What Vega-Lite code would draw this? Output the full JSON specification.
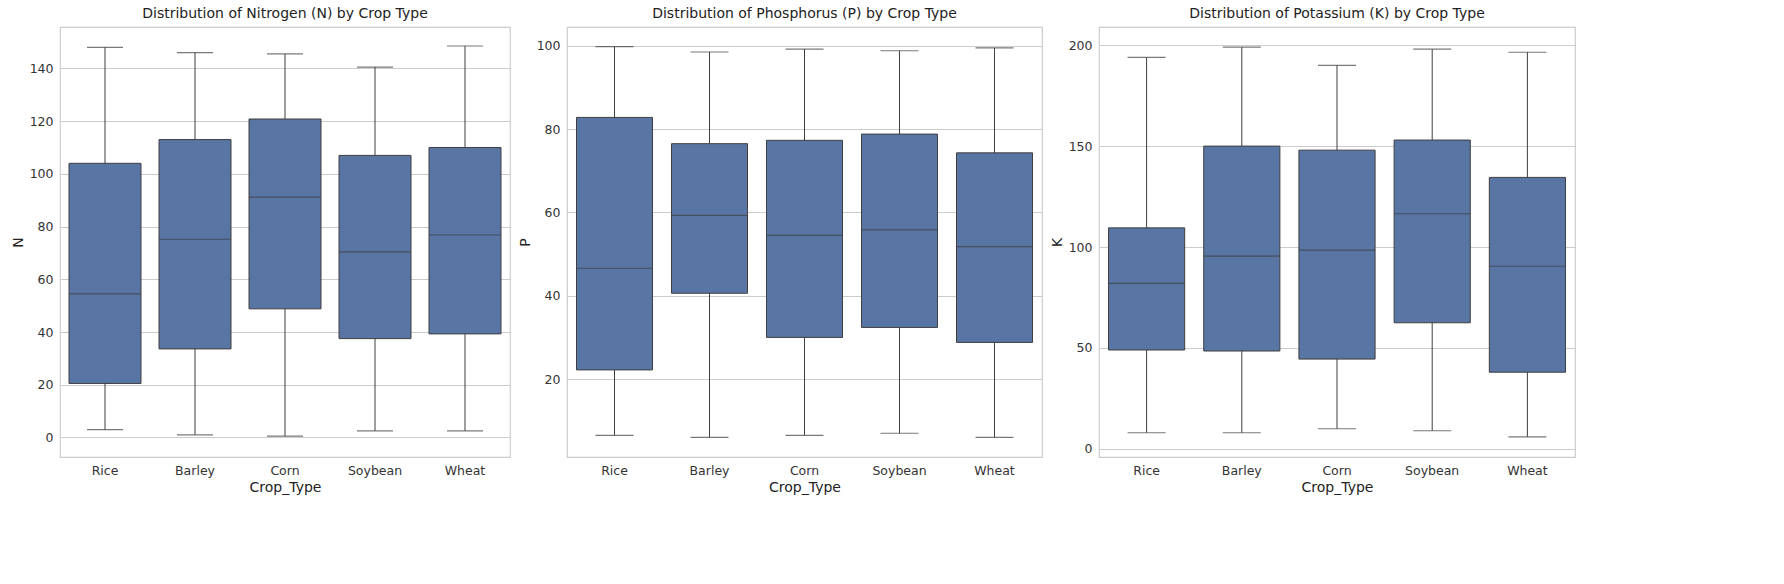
{
  "$schema": "https://vega.github.io/schema/vega-lite/v6.json",
  "datasets": {
    "stats": [
      {"nut": "N", "crop": "Rice", "min": 3, "q1": 20.5, "med": 54.5, "q3": 104, "max": 148},
      {"nut": "N", "crop": "Barley", "min": 1, "q1": 33.6, "med": 75.2, "q3": 113, "max": 146},
      {"nut": "N", "crop": "Corn", "min": 0.5, "q1": 48.8, "med": 91.2, "q3": 120.8, "max": 145.5},
      {"nut": "N", "crop": "Soybean", "min": 2.5, "q1": 37.5, "med": 70.4, "q3": 107, "max": 140.5},
      {"nut": "N", "crop": "Wheat", "min": 2.5, "q1": 39.3, "med": 76.8, "q3": 110, "max": 148.5},
      {"nut": "P", "crop": "Rice", "min": 6.5, "q1": 22.2, "med": 46.6, "q3": 82.8, "max": 99.8},
      {"nut": "P", "crop": "Barley", "min": 6, "q1": 40.6, "med": 59.3, "q3": 76.5, "max": 98.5},
      {"nut": "P", "crop": "Corn", "min": 6.5, "q1": 30, "med": 54.5, "q3": 77.3, "max": 99.2},
      {"nut": "P", "crop": "Soybean", "min": 7, "q1": 32.4, "med": 55.8, "q3": 78.8, "max": 98.8},
      {"nut": "P", "crop": "Wheat", "min": 6, "q1": 28.8, "med": 51.8, "q3": 74.3, "max": 99.5},
      {"nut": "K", "crop": "Rice", "min": 8, "q1": 49, "med": 82, "q3": 109.5, "max": 194},
      {"nut": "K", "crop": "Barley", "min": 8, "q1": 48.5, "med": 95.5, "q3": 150, "max": 199},
      {"nut": "K", "crop": "Corn", "min": 10, "q1": 44.5, "med": 98.5, "q3": 148, "max": 190},
      {"nut": "K", "crop": "Soybean", "min": 9, "q1": 62.5, "med": 116.5, "q3": 153, "max": 198},
      {"nut": "K", "crop": "Wheat", "min": 6, "q1": 38, "med": 90.5, "q3": 134.5, "max": 196.5}
    ]
  },
  "spacing": 6,
  "padding": {"left": 10, "top": 6, "right": 8, "bottom": 6},
  "config": {
    "font": "DejaVu Sans",
    "view": {"stroke": "#cccccc", "strokeWidth": 1.2},
    "title": {"fontSize": 14, "fontWeight": "normal", "color": "#222", "offset": 6},
    "axis": {"labelFontSize": 12.5, "titleFontSize": 14, "titleFontWeight": "normal", "labelColor": "#333", "titleColor": "#222", "domain": false, "ticks": false, "labelPadding": 7},
    "axisY": {"grid": true, "gridColor": "#cccccc", "tickCount": 8},
    "axisX": {"grid": false, "labelAngle": 0},
    "scale": {"bandPaddingInner": 0.2, "bandPaddingOuter": 0.1}
  },
  "hconcat": [
    {
      "title": "Distribution of Nitrogen (N) by Crop Type",
      "width": 450, "height": 430,
      "data": {"name": "stats"},
      "transform": [{"filter": "datum.nut == 'N'"}],
      "encoding": {
        "x": {"field": "crop", "type": "nominal", "sort": ["Rice", "Barley", "Corn", "Soybean", "Wheat"], "title": "Crop_Type"}
      },
      "layer": [
        {"mark": {"type": "rule", "color": "#3f3f3f"}, "encoding": {"y": {"field": "min", "type": "quantitative", "title": "N", "scale": {"domain": [-7.4, 155.7], "nice": false, "zero": false}}, "y2": {"field": "max"}}},
        {"mark": {"type": "bar", "color": "#5875a4", "stroke": "#3f3f3f", "strokeWidth": 1}, "encoding": {"y": {"field": "q1", "type": "quantitative"}, "y2": {"field": "q3"}}},
        {"mark": {"type": "tick", "color": "#3f3f3f", "thickness": 1.2, "size": 72}, "encoding": {"y": {"field": "med", "type": "quantitative"}}},
        {"mark": {"type": "tick", "color": "#3f3f3f", "thickness": 1.2, "size": 36}, "encoding": {"y": {"field": "min", "type": "quantitative"}}},
        {"mark": {"type": "tick", "color": "#3f3f3f", "thickness": 1.2, "size": 36}, "encoding": {"y": {"field": "max", "type": "quantitative"}}}
      ]
    },
    {
      "title": "Distribution of Phosphorus (P) by Crop Type",
      "width": 475, "height": 430,
      "data": {"name": "stats"},
      "transform": [{"filter": "datum.nut == 'P'"}],
      "encoding": {
        "x": {"field": "crop", "type": "nominal", "sort": ["Rice", "Barley", "Corn", "Soybean", "Wheat"], "title": "Crop_Type"}
      },
      "layer": [
        {"mark": {"type": "rule", "color": "#3f3f3f"}, "encoding": {"y": {"field": "min", "type": "quantitative", "title": "P", "axis": {"values": [20, 40, 60, 80, 100]}, "scale": {"domain": [1.3, 104.5], "nice": false, "zero": false}}, "y2": {"field": "max"}}},
        {"mark": {"type": "bar", "color": "#5875a4", "stroke": "#3f3f3f", "strokeWidth": 1}, "encoding": {"y": {"field": "q1", "type": "quantitative"}, "y2": {"field": "q3"}}},
        {"mark": {"type": "tick", "color": "#3f3f3f", "thickness": 1.2, "size": 76}, "encoding": {"y": {"field": "med", "type": "quantitative"}}},
        {"mark": {"type": "tick", "color": "#3f3f3f", "thickness": 1.2, "size": 38}, "encoding": {"y": {"field": "min", "type": "quantitative"}}},
        {"mark": {"type": "tick", "color": "#3f3f3f", "thickness": 1.2, "size": 38}, "encoding": {"y": {"field": "max", "type": "quantitative"}}}
      ]
    },
    {
      "title": "Distribution of Potassium (K) by Crop Type",
      "width": 476, "height": 430,
      "data": {"name": "stats"},
      "transform": [{"filter": "datum.nut == 'K'"}],
      "encoding": {
        "x": {"field": "crop", "type": "nominal", "sort": ["Rice", "Barley", "Corn", "Soybean", "Wheat"], "title": "Crop_Type"}
      },
      "layer": [
        {"mark": {"type": "rule", "color": "#3f3f3f"}, "encoding": {"y": {"field": "min", "type": "quantitative", "title": "K", "axis": {"values": [0, 25, 50, 75, 100, 125, 150, 175, 200]}, "scale": {"domain": [-4, 209], "nice": false, "zero": false}}, "y2": {"field": "max"}}},
        {"mark": {"type": "bar", "color": "#5875a4", "stroke": "#3f3f3f", "strokeWidth": 1}, "encoding": {"y": {"field": "q1", "type": "quantitative"}, "y2": {"field": "q3"}}},
        {"mark": {"type": "tick", "color": "#3f3f3f", "thickness": 1.2, "size": 76}, "encoding": {"y": {"field": "med", "type": "quantitative"}}},
        {"mark": {"type": "tick", "color": "#3f3f3f", "thickness": 1.2, "size": 38}, "encoding": {"y": {"field": "min", "type": "quantitative"}}},
        {"mark": {"type": "tick", "color": "#3f3f3f", "thickness": 1.2, "size": 38}, "encoding": {"y": {"field": "max", "type": "quantitative"}}}
      ]
    }
  ]
}
